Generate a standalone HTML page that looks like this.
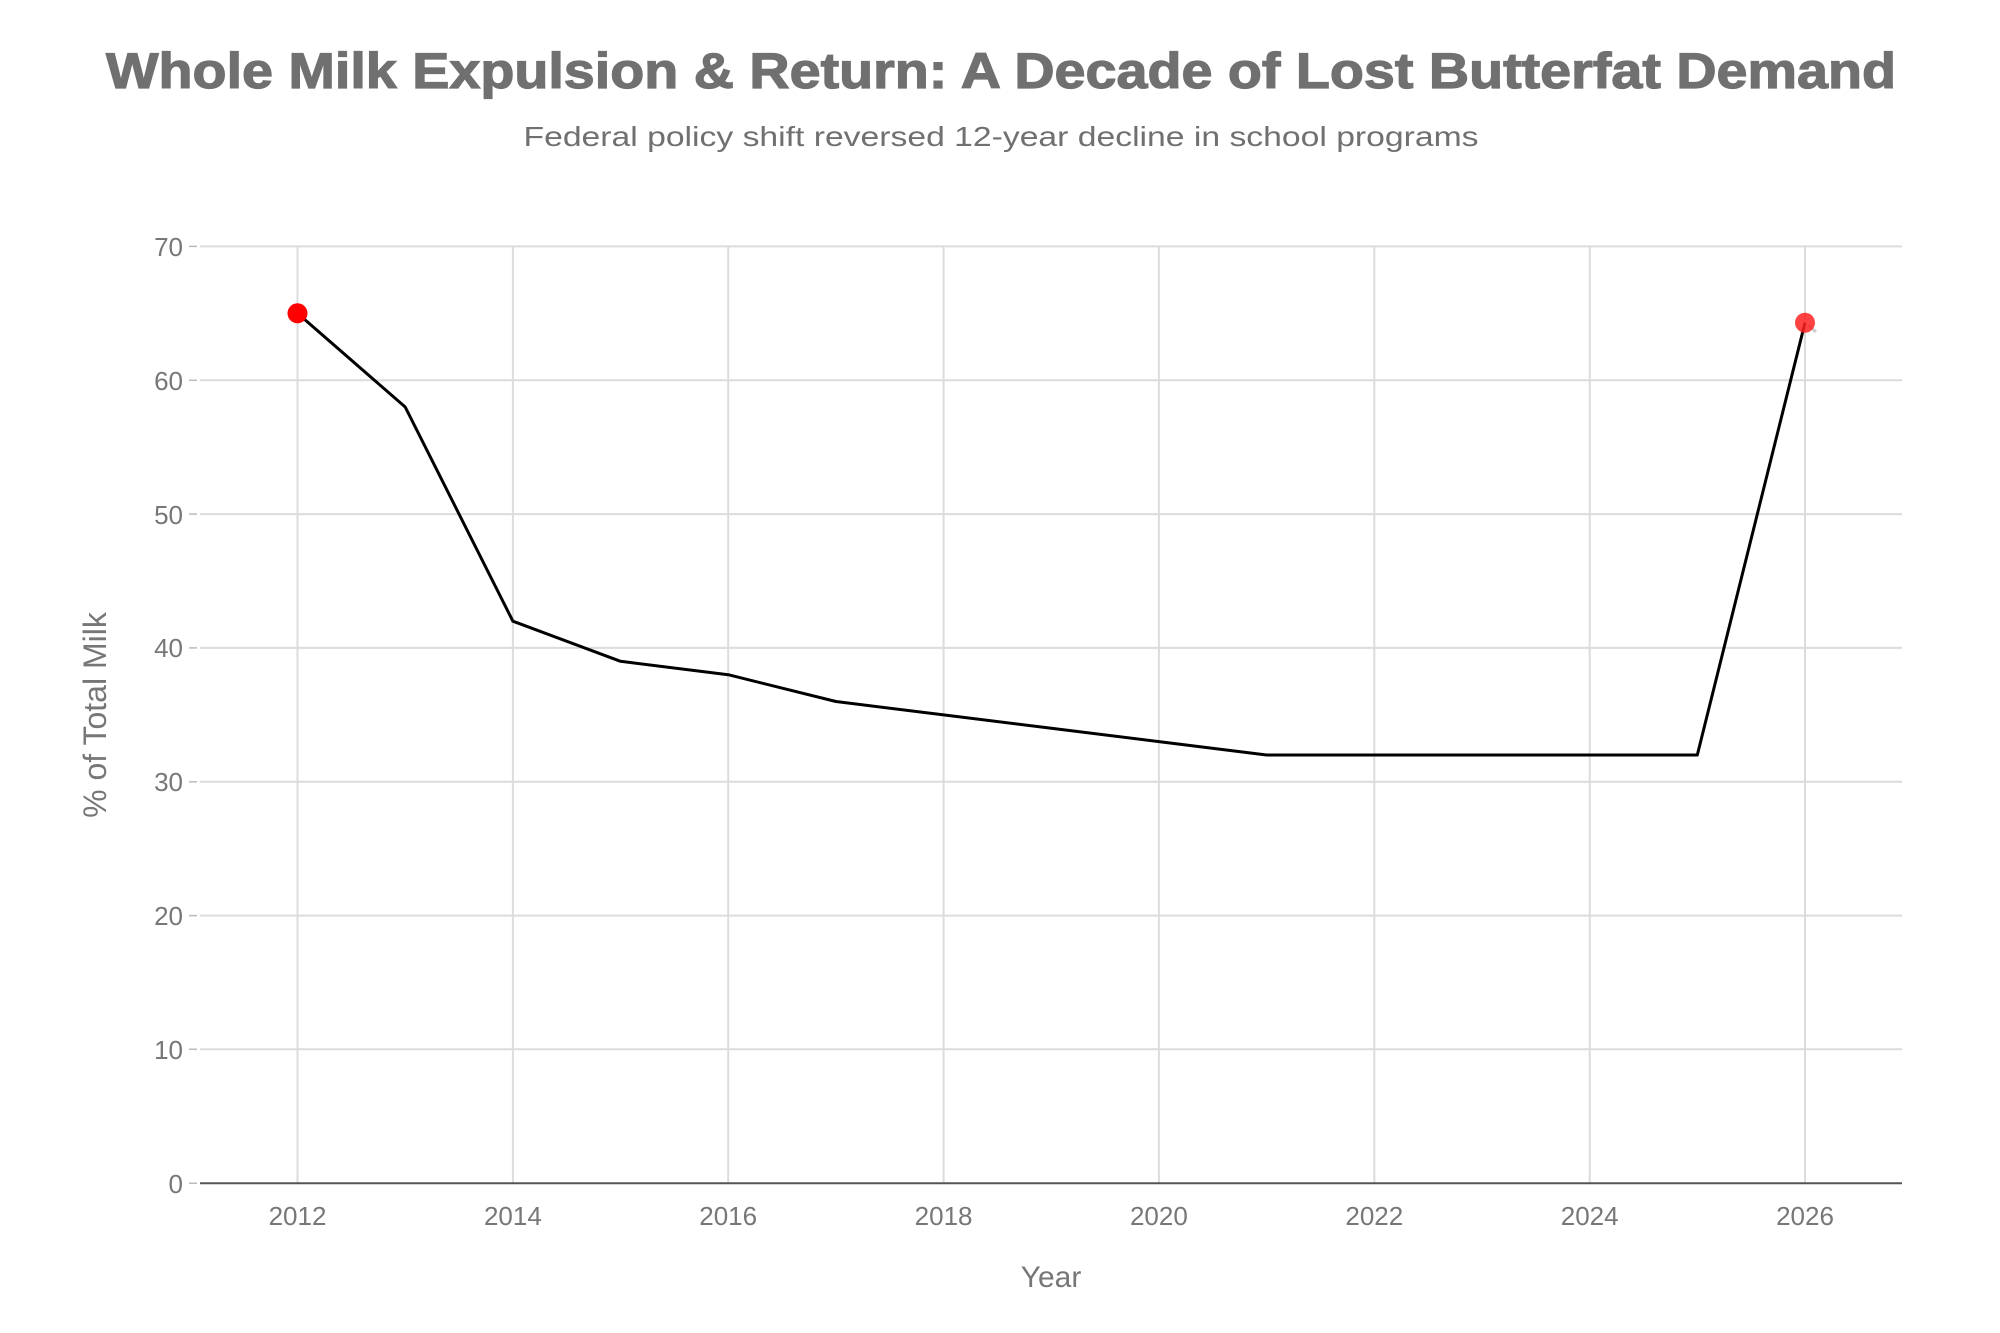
<!DOCTYPE html>
<html><head><meta charset="utf-8"><style>
html,body{margin:0;padding:0;background:#fff;}
svg{display:block;font-family:"Liberation Sans",sans-serif;}
</style></head><body>
<svg width="2000" height="1333" viewBox="0 0 2000 1333" xmlns="http://www.w3.org/2000/svg">
<rect width="2000" height="1333" fill="#fff"/>
<text x="1001" y="88" text-anchor="middle" font-size="50" font-weight="bold" fill="#707070" stroke="#707070" stroke-width="1.2" textLength="1790" lengthAdjust="spacingAndGlyphs">Whole Milk Expulsion &amp; Return: A Decade of Lost Butterfat Demand</text>
<text x="1001" y="146" text-anchor="middle" font-size="28" fill="#707070" textLength="955" lengthAdjust="spacingAndGlyphs">Federal policy shift reversed 12-year decline in school programs</text>
<g stroke="#dcdcdc" stroke-width="2">
<line x1="200" x2="1902" y1="246.4" y2="246.4"/>
<line x1="200" x2="1902" y1="380.3" y2="380.3"/>
<line x1="200" x2="1902" y1="514.1" y2="514.1"/>
<line x1="200" x2="1902" y1="647.9" y2="647.9"/>
<line x1="200" x2="1902" y1="781.8" y2="781.8"/>
<line x1="200" x2="1902" y1="915.6" y2="915.6"/>
<line x1="200" x2="1902" y1="1049.3" y2="1049.3"/>
<line y1="246" y2="1183" x1="297.5" x2="297.5"/>
<line y1="246" y2="1183" x1="512.9" x2="512.9"/>
<line y1="246" y2="1183" x1="728.2" x2="728.2"/>
<line y1="246" y2="1183" x1="943.6" x2="943.6"/>
<line y1="246" y2="1183" x1="1158.9" x2="1158.9"/>
<line y1="246" y2="1183" x1="1374.3" x2="1374.3"/>
<line y1="246" y2="1183" x1="1589.7" x2="1589.7"/>
<line y1="246" y2="1183" x1="1805" x2="1805"/>
</g>
<g stroke="#bbb" stroke-width="1.5">
<line x1="189" x2="197" y1="246.4" y2="246.4"/><line x1="189" x2="197" y1="380.3" y2="380.3"/><line x1="189" x2="197" y1="514.1" y2="514.1"/><line x1="189" x2="197" y1="647.9" y2="647.9"/><line x1="189" x2="197" y1="781.8" y2="781.8"/><line x1="189" x2="197" y1="915.6" y2="915.6"/><line x1="189" x2="197" y1="1049.3" y2="1049.3"/><line x1="189" x2="197" y1="1183.3" y2="1183.3"/>
</g>
<line x1="200" x2="1902" y1="1183.3" y2="1183.3" stroke="#555" stroke-width="2"/>
<g font-size="26" fill="#777" text-anchor="end">
<text x="183" y="256">70</text><text x="183" y="390">60</text><text x="183" y="524">50</text><text x="183" y="657">40</text><text x="183" y="791">30</text><text x="183" y="925">20</text><text x="183" y="1059">10</text><text x="183" y="1193">0</text>
</g>
<g font-size="26" fill="#777" text-anchor="middle">
<text x="297.5" y="1225">2012</text><text x="512.9" y="1225">2014</text><text x="728.2" y="1225">2016</text><text x="943.6" y="1225">2018</text><text x="1158.9" y="1225">2020</text><text x="1374.3" y="1225">2022</text><text x="1589.7" y="1225">2024</text><text x="1805" y="1225">2026</text>
</g>
<text x="1051" y="1287" text-anchor="middle" font-size="30" fill="#777">Year</text>
<text transform="translate(106,715) rotate(-90)" text-anchor="middle" font-size="32" fill="#777">% of Total Milk</text>
<polyline fill="none" stroke="#000" stroke-width="3" stroke-linejoin="round" points="297.5,313.3 405.2,407 512.9,621.2 620.5,661.3 728.2,674.7 835.9,701.5 943.6,714.9 1051.3,728.2 1158.9,741.6 1266.6,755 1374.3,755 1482,755 1589.7,755 1697.3,755 1805,322.7"/>
<circle cx="297.5" cy="313.3" r="10" fill="#f00"/>
<line x1="1808" y1="325" x2="1816" y2="332" stroke="#ccc" stroke-width="3"/>
<circle cx="1805" cy="322.7" r="10" fill="#f22" opacity="0.85"/>
</svg>
</body></html>
